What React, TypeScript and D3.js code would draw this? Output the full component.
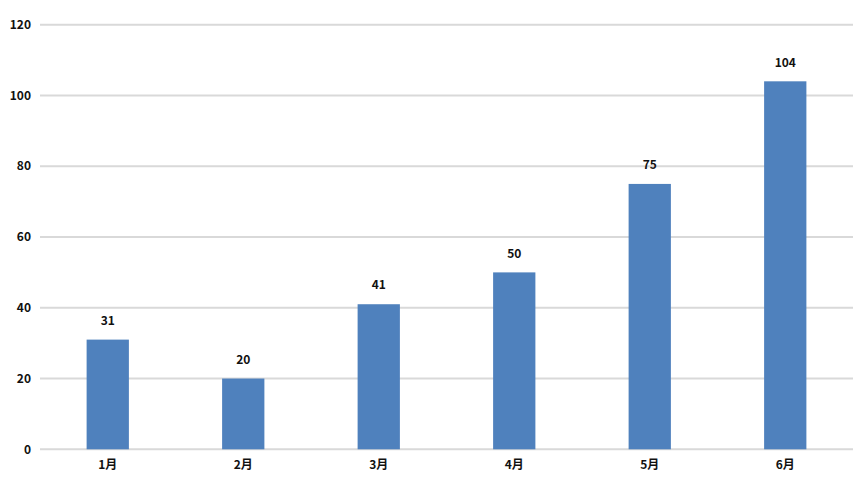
import React from "react";
import * as d3 from "d3";

const categories = ["1月", "2月", "3月", "4月", "5月", "6月"];
const values = [31, 20, 41, 50, 75, 104];
const yTicks = [0, 20, 40, 60, 80, 100, 120];

const W = 862;
const H = 478;
const left = 40;
const right = 853;
const top = 24.7;
const bottom = 449.3;

export default function App() {
  const x = d3.scaleBand<string>().domain(categories).range([left, right]).padding(0);
  const y = d3.scaleLinear().domain([0, 120]).range([bottom, top]);
  const bw = x.bandwidth() * 0.312;
  const font = "'Noto Sans CJK SC', 'Microsoft YaHei', sans-serif";
  return (
    <svg width={W} height={H} style={{ position: "absolute", left: 0, top: 0, background: "#fff" }}>
      {yTicks.map((t) => (
        <g key={t}>
          <line x1={left} x2={right} y1={y(t)} y2={y(t)} stroke="#d9d9d9" strokeWidth={2} />
          <text x={31} y={y(t)} dy="0.35em" textAnchor="end" fontFamily={font} fontWeight="bold" fontSize={12} fill="#111">
            {t}
          </text>
        </g>
      ))}
      {categories.map((c, i) => {
        const cx = (x(c) as number) + x.bandwidth() / 2;
        return (
          <g key={c}>
            <rect x={cx - bw / 2} y={y(values[i])} width={bw} height={y(0) - y(values[i])} fill="#4f81bd" />
            <text x={cx} y={y(values[i]) - 19} dy="0.35em" textAnchor="middle" fontFamily={font} fontWeight="bold" fontSize={12} fill="#111">
              {values[i]}
            </text>
            <text x={cx} y={465} dy="0.35em" textAnchor="middle" fontFamily={font} fontWeight="bold" fontSize={12} fill="#111">
              {c}
            </text>
          </g>
        );
      })}
    </svg>
  );
}
